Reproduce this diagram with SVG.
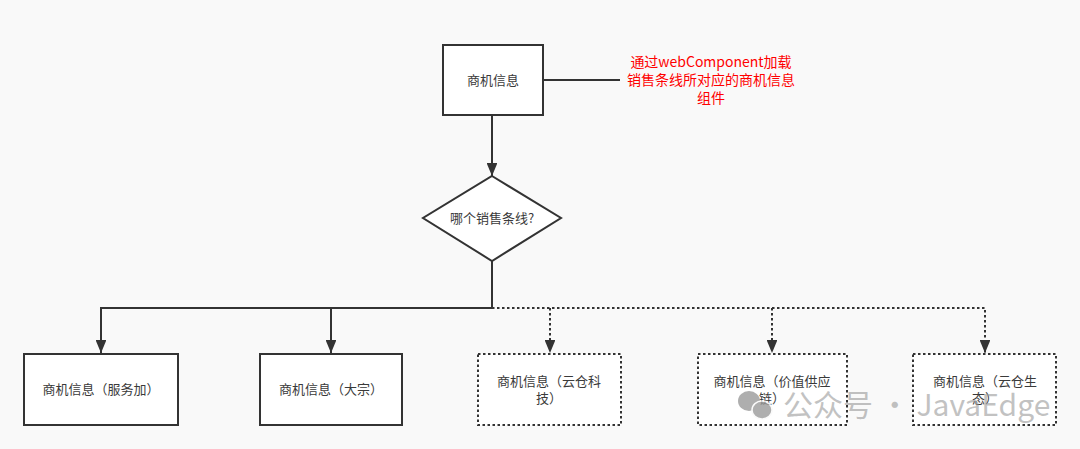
<svg xmlns="http://www.w3.org/2000/svg" width="1080" height="449" viewBox="0 0 1080 449">
<style>
.bg{fill:#f9f9f9}
.node{fill:#fff;stroke:#333;stroke-width:2}
.dot{stroke-dasharray:2.5 2.5}
.t{font-family:"Noto Sans CJK SC","Noto Sans",sans-serif;font-size:13px;fill:#3a3a3a;text-anchor:middle}
.red{font-family:"Noto Sans CJK SC","Noto Sans",sans-serif;font-size:14px;fill:#ff0000;text-anchor:middle}
.line{fill:none;stroke:#333;stroke-width:2}
.wm{font-family:"Noto Sans CJK SC","Noto Sans",sans-serif;font-size:30px;fill:#9a9a9a;fill-opacity:0.75}
</style>
<defs>
<marker id="arr" viewBox="0 0 12 10" refX="12" refY="5" markerWidth="6.5" markerHeight="5.4" orient="auto" markerUnits="strokeWidth">
<path d="M0,0 L12,5 L0,10 z" fill="#333"/>
</marker>
</defs>
<rect class="bg" x="0" y="0" width="1080" height="449"/>
<g id="connectors">
<path class="line" d="M543,80 H620"/>
<path class="line" d="M492,115 V176" marker-end="url(#arr)"/>
<path class="line" d="M492,261 V308 H101 V353" marker-end="url(#arr)"/>
<path class="line" d="M331,308 V353" marker-end="url(#arr)"/>
<path class="line dot" d="M492,308 H985 V353" marker-end="url(#arr)"/>
<path class="line dot" d="M550,308 V353" marker-end="url(#arr)"/>
<path class="line dot" d="M772,308 V353" marker-end="url(#arr)"/>
</g>
<g id="node-top">
<rect class="node" x="443" y="45" width="100" height="70"/>
<text class="t" x="493" y="85">商机信息</text>
</g>
<g id="note">
<text class="red" x="711" y="67">通过webComponent加载</text>
<text class="red" x="711" y="85">销售条线所对应的商机信息</text>
<text class="red" x="711" y="103">组件</text>
</g>
<g id="node-decision">
<polygon class="node" points="492,176 561,218 492,261 423,218"/>
<text class="t" x="492" y="223">哪个销售条线?</text>
</g>
<g id="node-1">
<rect class="node" x="24" y="354" width="154" height="71"/>
<text class="t" x="101" y="394">商机信息（服务加）</text>
</g>
<g id="node-2">
<rect class="node" x="260" y="354" width="142" height="71"/>
<text class="t" x="331" y="394">商机信息（大宗）</text>
</g>
<g id="node-3">
<rect class="node dot" x="478" y="354" width="143" height="71"/>
<text class="t" x="549" y="386">商机信息（云仓科</text>
<text class="t" x="549" y="403">技）</text>
</g>
<g id="node-4">
<rect class="node dot" x="698" y="354" width="149" height="71"/>
<text class="t" x="772" y="386">商机信息（价值供应</text>
<text class="t" x="772" y="403">链）</text>
</g>
<g id="node-5">
<rect class="node dot" x="913" y="354" width="143" height="71"/>
<text class="t" x="985" y="386">商机信息（云仓生</text>
<text class="t" x="985" y="403">态）</text>
</g>
<g id="watermark" opacity="0.8">
<ellipse cx="749" cy="401" rx="11" ry="10" fill="#9a9a9a"/>
<ellipse cx="762" cy="410" rx="10" ry="9" fill="#9a9a9a" stroke="#f9f9f9" stroke-width="1.5"/>
<text class="wm" x="783" y="416">公众号 · JavaEdge</text>
</g>
</svg>
